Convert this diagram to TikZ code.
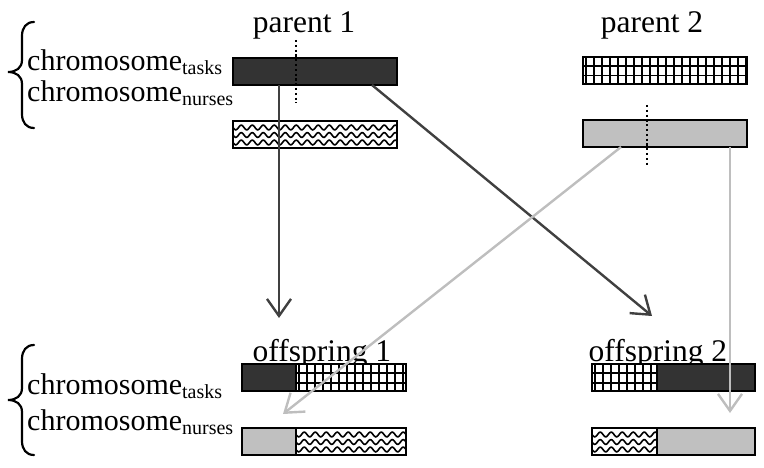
\documentclass[tikz,border=0pt]{standalone}
\usepackage{fontspec}
\setmainfont{Liberation Serif}
\usetikzlibrary{arrows.meta,calc}
\definecolor{darkfill}{HTML}{333333}
\definecolor{lightfill}{HTML}{C0C0C0}
\definecolor{darkarrow}{HTML}{404040}
\definecolor{lightarrow}{HTML}{BEBEBE}
\begin{document}
\begin{tikzpicture}[x=1pt,y=-1pt,
  bar/.style={rectangle, draw=black, line width=2.4, inner sep=0, outer sep=0, minimum height=27, anchor=north west},
  darkbar/.style={bar, fill=darkfill},
  graybar/.style={bar, fill=lightfill},
  plainbar/.style={bar, fill=white},
  patline/.style={line width=1.8},
  wavline/.style={line width=1.6},
  big/.style={font=\fontsize{31.5}{36}\selectfont, inner sep=0},
  chrom/.style={font=\fontsize{30}{36}\selectfont, inner sep=0, anchor=base west},
  brace/.style={line width=2.2, line cap=round},
  dotline/.style={line width=2.6, dash pattern=on 2.2pt off 2.6pt},
  darkarr/.style={draw=darkarrow, line width=2.4, -{Straight Barb[length=17,width=24]}},
  lightarr/.style={draw=lightarrow, line width=2.4, -{Straight Barb[length=17,width=24]}}
]
\useasboundingbox (0,0) rectangle (764,468);
\newcommand{\sub}[1]{\raisebox{-4pt}{\fontsize{20}{24}\selectfont #1}}
\newcommand{\gridpat}[1]{%
  \begin{scope}
    \clip (#1.north west) rectangle (#1.south east);
    \begin{scope}[shift={(#1.north west)}]
      \foreach \i in {3,11,...,171} \draw[patline] (\i,-2) -- (\i,32);
      \foreach \j in {9.3,18.6} \draw[patline] (-2,\j) -- (172,\j);
    \end{scope}
  \end{scope}
  \draw[line width=2.4] (#1.north west) rectangle (#1.south east);}
\newcommand{\wavepat}[1]{%
  \begin{scope}
    \clip (#1.north west) rectangle (#1.south east);
    \begin{scope}[shift={(#1.north west)}]
      \foreach \r in {6.5,14,21.5}
        \draw[wavline] plot[domain=-2:172,samples=150,smooth] (\x,{\r+2.4*sin(\x*32.7273)});
    \end{scope}
  \end{scope}
  \draw[line width=2.4] (#1.north west) rectangle (#1.south east);}

% labels
\node[big, anchor=base] (p1lab) at (304,33) {parent 1};
\node[big, anchor=base] (p2lab) at (652,33) {parent 2};
\node[big, anchor=base] (o1lab) at (322,361) {offspring 1};
\node[big, anchor=base] (o2lab) at (658,361) {offspring 2};

\node[chrom] (ct1) at (27,71) {chromosome\sub{tasks}};
\node[chrom] (cn1) at (27,102) {chromosome\sub{nurses}};
\node[chrom] (ct2) at (27,394) {chromosome\sub{tasks}};
\node[chrom] (cn2) at (27,430) {chromosome\sub{nurses}};

% braces
\draw[brace] (34,22) .. controls (26,22) and (22,28) .. (22,36) -- (22,60)
  .. controls (22,68) and (16,72) .. (8,72) .. controls (16,72) and (22,76) .. (22,84)
  -- (22,114) .. controls (22,122) and (26,128) .. (34,128);
\draw[brace] (34,345) .. controls (26,345) and (22,351) .. (22,359) -- (22,388)
  .. controls (22,396) and (16,400) .. (8,400) .. controls (16,400) and (22,404) .. (22,412)
  -- (22,441) .. controls (22,449) and (26,455) .. (34,455);

% parent bars
\node[darkbar, minimum width=164] (p1t) at (233,58) {};
\node[plainbar, minimum width=164] (p1n) at (233,121) {};
\node[plainbar, minimum width=164] (p2t) at (583,57) {};
\node[graybar, minimum width=164] (p2n) at (583,120) {};
\wavepat{p1n}
\gridpat{p2t}

% offspring bars
\node[darkbar, minimum width=54] (o1ta) at (242,364) {};
\node[plainbar, minimum width=110] (o1tb) at (296,364) {};
\node[graybar, minimum width=54] (o1na) at (242,428) {};
\node[plainbar, minimum width=110] (o1nb) at (296,428) {};
\node[plainbar, minimum width=65] (o2ta) at (592,364) {};
\node[darkbar, minimum width=98] (o2tb) at (657,364) {};
\node[plainbar, minimum width=65] (o2na) at (592,428) {};
\node[graybar, minimum width=98] (o2nb) at (657,428) {};
\gridpat{o1tb}
\wavepat{o1nb}
\gridpat{o2ta}
\wavepat{o2na}

% crossover points
\coordinate (cut1a) at (296,40);
\coordinate (cut1b) at (296,103);
\coordinate (cut2a) at (647,105);
\coordinate (cut2b) at (647,167);
\draw[dotline] (cut1a) -- (cut1b);
\draw[dotline] (cut2a) -- (cut2b);

% arrows
\coordinate (e1) at (279,318);
\coordinate (e2) at (652,316);
\coordinate (e3) at (283,414);
\coordinate (e4) at (730,413);
\draw[darkarr] ($(p1t.south west)+(46,0)$) -- (e1);
\draw[darkarr] ($(p1t.south west)+(139,0)$) -- (e2);
\draw[lightarr] ($(p2n.south west)+(38,0)$) -- (e3);
\draw[lightarr] ($(p2n.south west)+(147,0)$) -- (e4);
\end{tikzpicture}
\end{document}
